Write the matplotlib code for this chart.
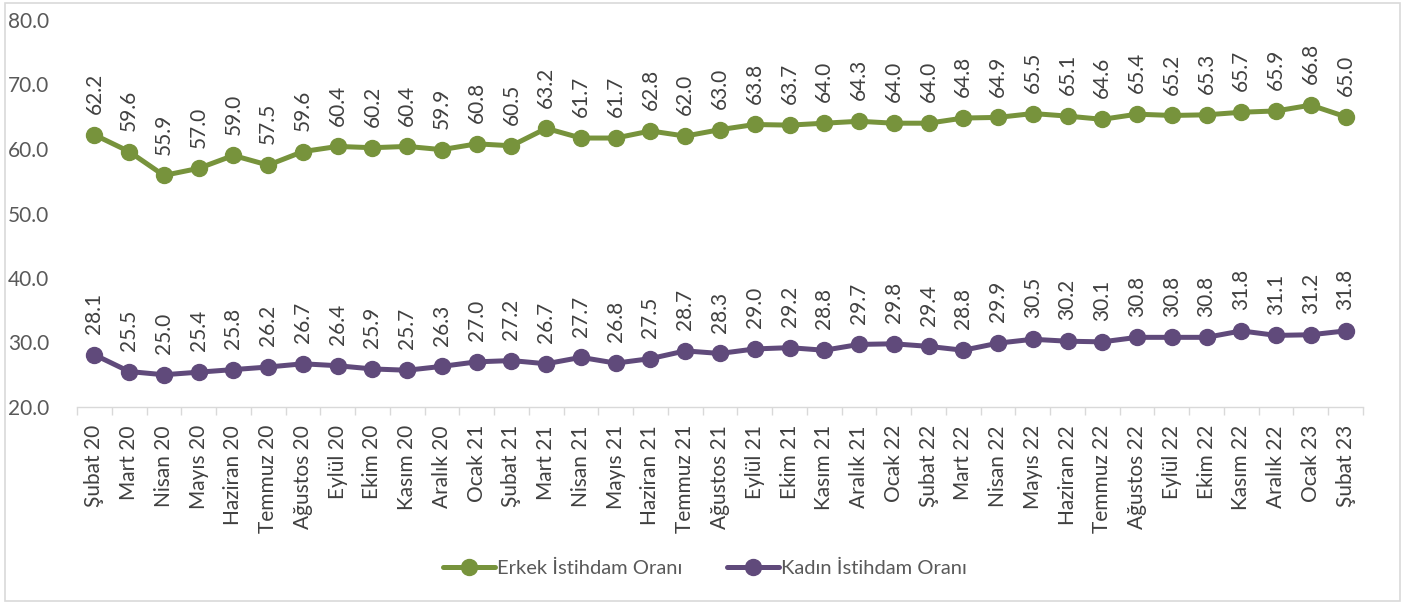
import matplotlib
matplotlib.use("Agg")
import matplotlib.pyplot as plt
from matplotlib.patches import Rectangle
from matplotlib.ticker import FixedLocator, NullFormatter

plt.rcParams['font.family'] = ['Lato', 'DejaVu Sans']

months = ['Şubat 20', 'Mart 20', 'Nisan 20', 'Mayıs 20', 'Haziran 20', 'Temmuz 20',
          'Ağustos 20', 'Eylül 20', 'Ekim 20', 'Kasım 20', 'Aralık 20', 'Ocak 21',
          'Şubat 21', 'Mart 21', 'Nisan 21', 'Mayıs 21', 'Haziran 21', 'Temmuz 21',
          'Ağustos 21', 'Eylül 21', 'Ekim 21', 'Kasım 21', 'Aralık 21', 'Ocak 22',
          'Şubat 22', 'Mart 22', 'Nisan 22', 'Mayıs 22', 'Haziran 22', 'Temmuz 22',
          'Ağustos 22', 'Eylül 22', 'Ekim 22', 'Kasım 22', 'Aralık 22', 'Ocak 23',
          'Şubat 23']
erkek = [62.2, 59.6, 55.9, 57.0, 59.0, 57.5, 59.6, 60.4, 60.2, 60.4, 59.9, 60.8,
         60.5, 63.2, 61.7, 61.7, 62.8, 62.0, 63.0, 63.8, 63.7, 64.0, 64.3, 64.0,
         64.0, 64.8, 64.9, 65.5, 65.1, 64.6, 65.4, 65.2, 65.3, 65.7, 65.9, 66.8,
         65.0]
kadin = [28.1, 25.5, 25.0, 25.4, 25.8, 26.2, 26.7, 26.4, 25.9, 25.7, 26.3, 27.0,
         27.2, 26.7, 27.7, 26.8, 27.5, 28.7, 28.3, 29.0, 29.2, 28.8, 29.7, 29.8,
         29.4, 28.8, 29.9, 30.5, 30.2, 30.1, 30.8, 30.8, 30.8, 31.8, 31.1, 31.2,
         31.8]
yticks = [20.0, 30.0, 40.0, 50.0, 60.0, 70.0, 80.0]

GREEN = '#77933C'
PURPLE = '#604A7B'
TXT = '#595959'

W, H = 1413, 603
fig = plt.figure(figsize=(W / 100, H / 100), dpi=100)
fig.patches.append(Rectangle((5 / W, 2 / H), (1400 - 5) / W, (600 - 2) / H,
                             transform=fig.transFigure, fill=False,
                             edgecolor='#D9D9D9', linewidth=1.2))
ax = fig.add_axes([77 / W, 1 - 407 / H, (1363 - 77) / W, (407 - 20) / H])

x = list(range(len(months)))
ax.plot(x, erkek, color=GREEN, lw=3.6, marker='o', ms=11.5, label='Erkek İstihdam Oranı',
        solid_capstyle='round')
ax.plot(x, kadin, color=PURPLE, lw=3.6, marker='o', ms=11.5, label='Kadın İstihdam Oranı',
        solid_capstyle='round')

for series in (erkek, kadin):
    for xi, v in zip(x, series):
        ax.annotate(f'{v:.1f}', (xi, v), xytext=(0, 15), textcoords='offset points',
                    rotation=90, ha='center', va='bottom', fontsize=15, color='#404040')

ax.set_xlim(-0.5, len(months) - 0.5)
ax.set_ylim(20, 80)
ax.set_yticks(yticks)
ax.set_yticklabels([f'{t:.1f}' for t in yticks], fontsize=15, color=TXT)
ax.tick_params(axis='y', length=0, pad=20)

ax.set_xticks(x)
ax.set_xticklabels(months, rotation=90, fontsize=15, color='#404040')
ax.tick_params(axis='x', which='major', length=0, pad=13)
ax.xaxis.set_minor_locator(FixedLocator([i - 0.5 for i in range(len(months) + 1)]))
ax.xaxis.set_minor_formatter(NullFormatter())
ax.tick_params(axis='x', which='minor', length=6, width=1, color='#D9D9D9')

for s in ['top', 'right', 'left']:
    ax.spines[s].set_visible(False)
ax.spines['bottom'].set_color('#D9D9D9')
ax.spines['bottom'].set_linewidth(1)

leg = fig.legend(loc='center', bbox_to_anchor=(705 / W, 1 - 568 / H), ncol=2, frameon=False,
                 fontsize=14.5, handlelength=2.6, columnspacing=2.2, handletextpad=0.1)
for t in leg.get_texts():
    t.set_color(TXT)

fig.savefig('out.png', dpi=100)
